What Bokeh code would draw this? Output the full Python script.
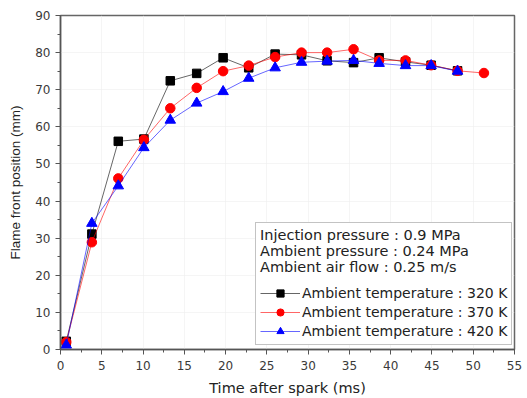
from bokeh.plotting import figure
from bokeh.models import Legend, LegendItem, SingleIntervalTicker, Range1d
from bokeh.embed import file_html
from bokeh.resources import INLINE

# Data
time_320 = [0.7, 3.8, 7.0, 10.1, 13.3, 16.5, 19.7, 22.8, 26.0, 29.2, 32.3, 35.5, 38.6, 41.8, 44.9, 48.1]
pos_320 = [2.2, 31.1, 56.1, 56.7, 72.4, 74.4, 78.6, 75.9, 79.6, 79.4, 77.8, 77.3, 78.6, 77.5, 76.6, 75.1]

time_370 = [0.7, 3.8, 7.0, 10.1, 13.3, 16.5, 19.7, 22.8, 26.0, 29.2, 32.3, 35.5, 38.6, 41.8, 44.9, 48.1, 51.3]
pos_370 = [2.0, 28.9, 46.1, 56.5, 65.0, 70.5, 75.0, 76.5, 78.8, 80.0, 80.0, 80.9, 77.9, 77.9, 76.6, 75.1, 74.5]

time_420 = [0.7, 3.8, 7.0, 10.1, 13.3, 16.5, 19.7, 22.8, 26.0, 29.2, 32.3, 35.5, 38.6, 41.8, 44.9, 48.1]
pos_420 = [1.2, 34.0, 44.1, 54.4, 61.8, 66.4, 69.5, 73.1, 75.9, 77.4, 77.7, 77.9, 77.1, 76.5, 76.5, 75.0]

x_label = "Time after spark (ms)"
y_label = "Flame front position (mm)"
legend_header = "Injection pressure : 0.9 MPa\nAmbient pressure : 0.24 MPa\nAmbient air flow : 0.25 m/s"
series_labels = ["Ambient temperature : 320 K", "Ambient temperature : 370 K", "Ambient temperature : 420 K"]

FONT = "DejaVu Sans"
FONT_V = "Liberation Sans"

p = figure(width=527, height=398, output_backend="svg", toolbar_location=None,
           x_range=Range1d(0, 55), y_range=Range1d(0, 90),
           min_border_left=60, min_border_right=13, min_border_top=15, min_border_bottom=49)

p.outline_line_color = "#666666"
p.outline_line_width = 1.5
p.background_fill_color = "white"
p.border_fill_color = "white"

p.xgrid.grid_line_color = "#eeeeee"
p.ygrid.grid_line_color = "#eeeeee"
p.xgrid.grid_line_alpha = 0.6
p.ygrid.grid_line_alpha = 0.6

p.xaxis.ticker = SingleIntervalTicker(interval=5, num_minor_ticks=2)
p.yaxis.ticker = SingleIntervalTicker(interval=10, num_minor_ticks=2)
for ax in (p.xaxis, p.yaxis):
    ax.axis_line_color = "#555555"
    ax.axis_line_width = 1.5
    ax.major_tick_line_color = "#555555"
    ax.minor_tick_line_color = "#555555"
    ax.major_tick_in = 0
    ax.major_tick_out = 5
    ax.minor_tick_in = 0
    ax.minor_tick_out = 3
    ax.major_label_text_font = FONT
    ax.major_label_text_font_size = "12px"
    ax.major_label_text_color = "#3a3a3a"
    ax.axis_label_text_font_style = "normal"
    ax.axis_label_text_color = "#222222"
p.xaxis.axis_label = x_label
p.yaxis.axis_label = y_label
p.xaxis.axis_label_text_font = FONT
p.xaxis.axis_label_text_font_size = "14.5px"
p.yaxis.axis_label_text_font = FONT_V
p.yaxis.axis_label_text_font_size = "13.5px"
p.xaxis.major_label_standoff = 6
p.xaxis.axis_label_standoff = 7
p.yaxis.major_label_standoff = 5
p.yaxis.axis_label_standoff = 9

l1 = p.line(time_320, pos_320, line_color="black", line_width=1, line_alpha=0.6)
s1 = p.scatter(time_320, pos_320, marker="square", size=8.5, fill_color="black", line_color="black")
l2 = p.line(time_370, pos_370, line_color="red", line_width=1, line_alpha=0.6)
s2 = p.scatter(time_370, pos_370, marker="circle", size=9.5, fill_color="red", line_color="red")
l3 = p.line(time_420, pos_420, line_color="blue", line_width=1, line_alpha=0.6)
s3 = p.scatter(time_420, pos_420, marker="triangle", size=10.5, fill_color="blue", line_color="blue")

legend = Legend(items=[
    LegendItem(label=series_labels[0], renderers=[l1, s1]),
    LegendItem(label=series_labels[1], renderers=[l2, s2]),
    LegendItem(label=series_labels[2], renderers=[l3, s3]),
], location=(195, 4))
legend.title = legend_header
legend.title_text_font = FONT
legend.title_text_font_size = "14.5px"
legend.title_text_font_style = "normal"
legend.title_text_color = "#222222"
legend.title_standoff = 9
legend.label_text_font = FONT
legend.label_text_font_size = "14px"
legend.label_text_color = "#222222"
legend.glyph_width = 40
legend.glyph_height = 18
legend.label_height = 18
legend.label_standoff = 2
legend.spacing = 1
legend.padding = 4
legend.margin = 0
legend.border_line_color = "#888888"
legend.border_line_width = 1
legend.background_fill_alpha = 1
p.add_layout(legend)

open("out.html", "w").write(file_html(p, INLINE))
